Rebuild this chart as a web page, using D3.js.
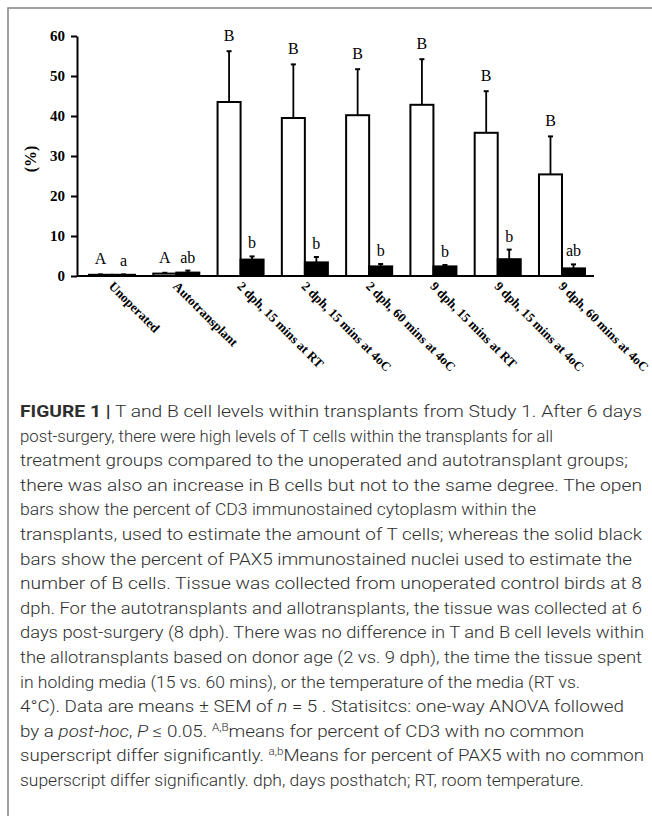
<!DOCTYPE html>
<html>
<head>
<meta charset="utf-8">
<script src="https://cdn.jsdelivr.net/npm/d3@7"></script>
<style>
  body { margin: 0; background: #fff; }
  svg { display: block; }
</style>
</head>
<body>
<svg id="fig" width="652" height="816"></svg>
<script>
// Treatment groups on the x axis
const categories = [
  "Unoperated", "Autotransplant",
  "2 dph, 15 mins at RT", "2 dph, 15 mins at 4oC", "2 dph, 60 mins at 4oC",
  "9 dph, 15 mins at RT", "9 dph, 15 mins at 4oC", "9 dph, 60 mins at 4oC"
];
// Percent CD3 immunostained cytoplasm (open bars), mean and SEM
const cd3Mean = [0.3, 0.6, 43.5, 39.5, 40.2, 42.8, 35.8, 25.4];
const cd3Sem  = [0.1, 0.2, 12.7, 13.4, 11.5, 11.4, 10.4, 9.5];
// Percent PAX5 immunostained nuclei (solid bars), mean and SEM
const pax5Mean = [0.3, 0.85, 4.1, 3.4, 2.4, 2.4, 4.2, 1.9];
const pax5Sem  = [0.1, 0.5, 0.8, 1.35, 0.6, 0.35, 2.4, 1.0];
// Significance letters
const cd3Letters  = ["A", "A", "B", "B", "B", "B", "B", "B"];
const pax5Letters = ["a", "ab", "b", "b", "b", "b", "b", "ab"];
// y axis ticks
const yTicks = [0, 10, 20, 30, 40, 50, 60];

// Caption lines: [text, style] where style is "" | "b" | "i" | "s"
const captionLines = [
  [["FIGURE 1 |", "b"], [" T and B cell levels within transplants from Study 1. After 6 days", ""]],
  [["post-surgery, there were high levels of T cells within the transplants for all", ""]],
  [["treatment groups compared to the unoperated and autotransplant groups;", ""]],
  [["there was also an increase in B cells but not to the same degree. The open", ""]],
  [["bars show the percent of CD3 immunostained cytoplasm within the", ""]],
  [["transplants, used to estimate the amount of T cells; whereas the solid black", ""]],
  [["bars show the percent of PAX5 immunostained nuclei used to estimate the", ""]],
  [["number of B cells. Tissue was collected from unoperated control birds at 8", ""]],
  [["dph. For the autotransplants and allotransplants, the tissue was collected at 6", ""]],
  [["days post-surgery (8 dph). There was no difference in T and B cell levels within", ""]],
  [["the allotransplants based on donor age (2 vs. 9 dph), the time the tissue spent", ""]],
  [["in holding media (15 vs. 60 mins), or the temperature of the media (RT vs.", ""]],
  [["4\u00B0C). Data are means \u00B1 SEM of ", ""], ["n", "i"], [" = 5 . Statisitcs: one-way ANOVA followed", ""]],
  [["by a ", ""], ["post-hoc", "i"], [", ", ""], ["P", "i"], [" \u2264 0.05. ", ""], ["A,B", "s"], ["means for percent of CD3 with no common", ""]],
  [["superscript differ significantly. ", ""], ["a,b", "s"], ["Means for percent of PAX5 with no common", ""]],
  [["superscript differ significantly. dph, days posthatch; RT, room temperature.", ""]]
];
// Right edge of each caption line (the text block is set ragged-right)
const captionRight = [642, 553, 628, 642, 536, 642, 632, 642, 642, 644, 642, 580, 624, 584, 644, 584];

const svg = d3.select("#fig");
const serif = "'Liberation Serif', 'Times New Roman', serif";

// Panel frame
svg.append("rect")
  .attr("x", 8).attr("y", 8).attr("width", 720).attr("height", 900)
  .attr("fill", "none").attr("stroke", "#8a8a8a").attr("stroke-width", 1.6);

// Scales
const axisX = 77;
const y = d3.scaleLinear().domain([0, 60]).range([276, 36]);
const x = d3.scaleBand().domain(categories).range([89, 585])
  .paddingInner(0.284).paddingOuter(0);
const half = x.bandwidth() / 2;

const rows = categories.map((c, i) => ({
  c, i,
  cd3: cd3Mean[i], cd3e: cd3Sem[i], pax: pax5Mean[i], paxe: pax5Sem[i],
  L: cd3Letters[i], l: pax5Letters[i]
}));

const plot = svg.append("g");

// Open bars (CD3)
plot.selectAll("rect.cd3").data(rows).join("rect").attr("class", "cd3")
  .attr("x", d => x(d.c))
  .attr("y", d => y(d.cd3))
  .attr("width", half)
  .attr("height", d => y(0) - y(d.cd3))
  .attr("fill", "#fff").attr("stroke", "#000").attr("stroke-width", 2);

// Solid bars (PAX5)
plot.selectAll("rect.pax").data(rows).join("rect").attr("class", "pax")
  .attr("x", d => x(d.c) + half)
  .attr("y", d => y(d.pax))
  .attr("width", half)
  .attr("height", d => y(0) - y(d.pax))
  .attr("fill", "#000").attr("stroke", "#000").attr("stroke-width", 2);

// Upward error bars
function errorBars(cls, offset, mean, sem) {
  const g = plot.selectAll("g." + cls).data(rows).join("g").attr("class", cls)
    .attr("transform", d => `translate(${x(d.c) + offset},0)`);
  g.append("line")
    .attr("x1", 0).attr("x2", 0)
    .attr("y1", d => y(mean(d))).attr("y2", d => y(mean(d) + sem(d)))
    .attr("stroke", "#000").attr("stroke-width", 1.8);
  g.append("line")
    .attr("x1", -2.5).attr("x2", 2.5)
    .attr("y1", d => y(mean(d) + sem(d))).attr("y2", d => y(mean(d) + sem(d)))
    .attr("stroke", "#000").attr("stroke-width", 2);
}
errorBars("err-cd3", half / 2, d => d.cd3, d => d.cd3e);
errorBars("err-pax", half * 1.5, d => d.pax, d => d.paxe);

// Significance letters
plot.selectAll("text.L").data(rows).join("text").attr("class", "L")
  .attr("x", d => x(d.c) + half / 2)
  .attr("y", d => y(d.cd3 + d.cd3e) - 10)
  .attr("text-anchor", "middle")
  .attr("font-family", serif).attr("font-size", 16)
  .text(d => d.L);
plot.selectAll("text.l").data(rows).join("text").attr("class", "l")
  .attr("x", d => x(d.c) + half * 1.5)
  .attr("y", d => y(d.pax + d.paxe) - 8)
  .attr("text-anchor", "middle")
  .attr("font-family", serif).attr("font-size", 16)
  .text(d => d.l);

// y axis
const yAxis = svg.append("g")
  .attr("transform", `translate(${axisX},0)`)
  .call(d3.axisLeft(y).tickValues(yTicks).tickSize(6).tickPadding(6).tickSizeOuter(0));
yAxis.select(".domain").attr("stroke", "#000").attr("stroke-width", 2);
yAxis.selectAll(".tick line").attr("stroke", "#000").attr("stroke-width", 2);
yAxis.selectAll(".tick text")
  .attr("font-family", serif).attr("font-size", 15).attr("font-weight", "bold")
  .attr("fill", "#000");

// y axis title
svg.append("text")
  .attr("transform", `translate(36,159) rotate(-90)`)
  .attr("text-anchor", "middle")
  .attr("font-family", serif).attr("font-size", 16).attr("font-weight", "bold")
  .text("(%)");

// x axis baseline
svg.append("line")
  .attr("x1", axisX).attr("x2", 594)
  .attr("y1", y(0)).attr("y2", y(0))
  .attr("stroke", "#000").attr("stroke-width", 2);

// Rotated category labels
svg.selectAll("text.cat").data(categories).join("text").attr("class", "cat")
  .attr("transform", d => `translate(${x(d) + half - 4},${y(0) + 11}) rotate(45)`)
  .attr("font-family", serif).attr("font-size", 13).attr("font-weight", "bold")
  .text(d => d);

// Caption
const cap = svg.append("g").attr("font-family", "Roboto, 'Liberation Sans', sans-serif")
  .attr("fill", "#2e2e2e");
const capTop = 417, capStep = 24.6, capX = 20;
captionLines.forEach((segs, li) => {
  const t = cap.append("text").attr("x", capX).attr("y", capTop + li * capStep)
    .attr("font-weight", 300).attr("font-size", 16.5)
    .attr("textLength", captionRight[li] - capX)
    .attr("lengthAdjust", "spacingAndGlyphs");
  let raised = false;
  segs.forEach(([txt, st]) => {
    const s = t.append("tspan").text(txt);
    if (st === "b") s.attr("font-weight", 700);
    if (st === "i") s.attr("font-style", "italic");
    if (st === "s") { s.attr("font-size", "0.62em").attr("dy", -6); raised = true; }
    else if (raised) { s.attr("dy", 6); raised = false; }
  });
});
</script>
</body>
</html>
